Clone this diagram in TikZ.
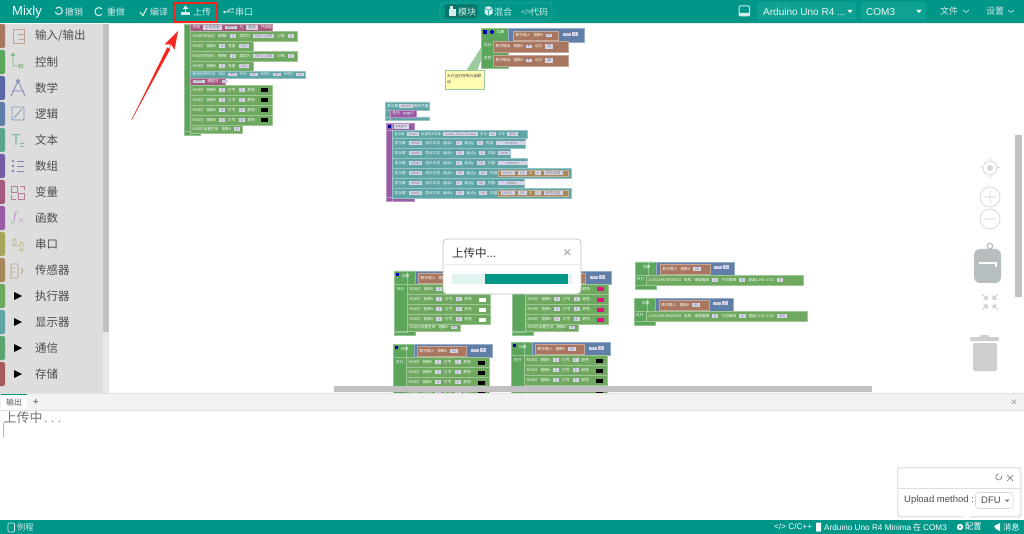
\documentclass[tikz,border=0pt]{standalone}
\usepackage{fontspec}
\setmainfont{Noto Sans CJK SC}
\newfontfamily\latinfont{Liberation Sans}
\usetikzlibrary{arrows.meta,calc}

\definecolor{topbar}{HTML}{009688}
\definecolor{topsel}{HTML}{0FA192}
\definecolor{uitext}{HTML}{D5ECE9}
\definecolor{sidecol}{HTML}{DDDDDD}
\definecolor{scrollcol}{HTML}{C1C1C1}
\definecolor{fieldcol}{HTML}{D5D3E8}
\definecolor{brownblk}{HTML}{A9775F}
\definecolor{greenblk}{HTML}{6FA85F}
\definecolor{ifblk}{HTML}{5CA65C}
\definecolor{blueblk}{HTML}{5F7FA8}
\definecolor{tealblk}{HTML}{5FA5A5}
\definecolor{magblk}{HTML}{A55B80}
\definecolor{purpblk}{HTML}{995BA5}
\definecolor{goldblk}{HTML}{A5895B}
\definecolor{mathtab}{HTML}{5B67A5}
\definecolor{texttab}{HTML}{5BA58C}
\definecolor{listtab}{HTML}{745BA5}
\definecolor{serialtab}{HTML}{A5A55B}
\definecolor{commtab}{HTML}{5BA56F}
\definecolor{storetab}{HTML}{A55B5B}
\definecolor{packcol}{HTML}{B6BEC0}
\definecolor{arrowred}{HTML}{F5261E}

\tikzset{
	blockrect/.style={line width=.6pt,draw=#1!65!white,fill=#1},
	blocktext/.style={anchor=west,inner sep=0pt,text=white,font=\fontsize{3.7}{4}\selectfont},
	toolitem/.style={anchor=west,inner sep=0pt,text=uitext,font=\fontsize{9}{9}\selectfont},
	sideitem/.style={anchor=west,inner sep=0pt,text=black!70,font=\fontsize{11.5}{12}\selectfont},
	statusitem/.style={anchor=west,inner sep=0pt,text=white,font=\fontsize{8.2}{9}\selectfont},
	toolicon/.style={draw=uitext,line width=1.1pt},
	ctrlicon/.style={draw=black!13,line width=1pt},
}

\newcommand{\fb}[1]{{\setlength{\fboxsep}{.5pt}\colorbox{fieldcol}{\hspace{1.5pt}\textcolor{black!50}{#1}\hspace{1.5pt}}}}
% name, x1, y1, x2, y2, colour, text
\newcommand{\blockrow}[7]{%
	\path[blockrect=#6] (#2,#3) rectangle (#4,#5);
	\node[blocktext] (#1) at (#2+2.5,{(#3+#5)/2}) {\spaceskip=3pt\relax #7};
}
% name, x, y, swatch colour, pin
\newcommand{\ifblock}[5]{%
	\path[blockrect=ifblk] (#2,#3) rectangle (#2+13,#3+61) (#2,#3) rectangle (#2+21,#3+13) (#2,#3+60) rectangle (#2+21,#3+64);
	\path[blockrect=blueblk] (#2+21,#3) rectangle (#2+99,#3+13);
	\blockrow{#1pin}{#2+24}{#3+2}{#2+73}{#3+12}{brownblk}{数字输入 管脚\# \fb{#5}}
	\node[blocktext] (#1if) at (#2+8,#3+5) {如果};
	\node[blocktext] (#1do) at (#2+3,#3+18) {执行};
	\node[blocktext] (#1eq) at (#2+78,#3+6) {\fb{==} \fb{0}};
	\fill[blue!70!black] (#2+2,#3+2) rectangle (#2+5,#3+5);
	\foreach \n in {1,2,3,4} {
		\blockrow{#1row\n}{#2+13}{#3+3+10*\n}{#2+96}{#3+13+10*\n}{greenblk}{RGB灯 管脚\# \fb{2} 灯号 \fb{\n} 颜色}
		\fill[#4] (#2+85,#3+6.5+10*\n) rectangle (#2+92,#3+10.5+10*\n);
	}
	\blockrow{#1end}{#2+13}{#3+53}{#2+66}{#3+60}{greenblk}{RGB灯设置生效 管脚\# \fb{2}}
}
% name, x, y, row left, row right, blue right, pin, text
\newcommand{\motorblock}[8]{%
	\path[blockrect=ifblk] (#2,#3) rectangle (#2+13,#3+23) (#2,#3) rectangle (#2+21,#3+13);
	\path[blockrect=ifblk] (#2,#3+23) rectangle (#2+21,#3+27);
	\path[blockrect=blueblk] (#2+21,#3) rectangle (#6,#3+13);
	\blockrow{#1pin}{#2+25}{#3+2}{#2+75}{#3+12}{brownblk}{数字输入 管脚\# \fb{#7}}
	\node[blocktext] (#1if) at (#2+8,#3+5) {如果};
	\node[blocktext] (#1do) at (#2+2,#3+17) {执行};
	\node[blocktext] (#1eq) at (#6-20,#3+5) {\fb{==} \fb{0}};
	\blockrow{#1row}{#4}{#3+13}{#5}{#3+23}{greenblk}{#8}
}

\begin{document}
\begin{tikzpicture}[x=1pt,y=-1pt]
	\useasboundingbox (0,0) rectangle (1024,534);
	\fill[white] (0,0) rectangle (1024,534);

	% first stack, upper left
	\path[blockrect=ifblk] (184,24) rectangle (190,135) (184,131) rectangle (200,135);
	\blockrow{declare}{190}{24}{272}{31}{magblk}{声明 \fb{全局变量} \fb{item} 为 \fb{整数} 并赋值}
	\blockrow{ledinitA}{190}{31}{297}{41}{greenblk}{RGB灯初始化 管脚\# \fb{2} 类型为 \fb{NEO\_GRB} 灯数 \fb{4}}
	\blockrow{ledlightA}{190}{41}{253}{51}{greenblk}{RGB灯 管脚\# \fb{2} 亮度 \fb{100}}
	\blockrow{ledinitB}{190}{51}{297}{61}{greenblk}{RGB灯初始化 管脚\# \fb{2} 类型为 \fb{NEO\_GRB} 灯数 \fb{4}}
	\blockrow{ledlightB}{190}{61}{253}{71}{greenblk}{RGB灯 管脚\# \fb{2} 亮度 \fb{100}}
	\blockrow{rfidinit}{190}{71}{305}{78}{tealblk}{初始化RFID为 SDA \fb{10} SCK \fb{13} MOSI \fb{11} MISO \fb{12}}
	\blockrow{itemset}{190}{78}{225}{85}{magblk}{\fb{item} 赋值为 \fb{0}}
	\foreach \n in {1,2,3,4} {
		\blockrow{firstrow\n}{190}{75+10*\n}{272}{85+10*\n}{greenblk}{RGB灯 管脚\# \fb{2} 灯号 \fb{\n} 颜色}
		\fill[black] (261,78+10*\n) rectangle (268,82+10*\n);
	}
	\blockrow{firstend}{190}{125}{242}{133}{greenblk}{RGB灯设置生效 管脚\# \fb{2}}

	% button block with its comment
	\fill[ifblk!60!white] (492,31) -- (466,71) -- (477,71) -- cycle;
	\path[blockrect=ifblk] (481,28) rectangle (508,68);
	\path[blockrect=blueblk] (508,28) rectangle (584,42);
	\blockrow{btnpin}{513}{31}{558}{40}{brownblk}{数字输入 管脚\# \fb{5}}
	\node[blocktext] (btnif) at (497,32) {如果};
	\node[blocktext] (btneq) at (563,34) {\fb{==} \fb{1}};
	\node[blocktext] (btndo) at (484,45) {执行};
	\node[blocktext] (btnelse) at (484,58) {否则};
	\blockrow{btnhigh}{493}{41}{568}{52}{brownblk}{数字输出 管脚\# \fb{9} 设为 \fb{低}}
	\blockrow{btnlow}{493}{55}{568}{66}{brownblk}{数字输出 管脚\# \fb{9} 设为 \fb{高}}
	\fill[blue!70!black] (483,30) rectangle (487,34);
	\fill[blue!70!black] (492,32) circle (2);
	\filldraw[draw=ifblk!60!white,fill=yellow!30!white,line width=1pt] (445,71) rectangle (484,90);
	\node[inner sep=0pt,text=black!75,align=left,anchor=north west,font=\fontsize{3.8}{6}\selectfont] (btnnote) at (447,74) {大灯运行控制与函联\\动};

	% display blocks
	\path[blockrect=tealblk] (385,102) rectangle (429,110) (385,110) rectangle (390,120) (385,117) rectangle (429,120);
	\node[blocktext] (oledtitle) at (387,106) {显示屏 \fb{oled2} 刷新页面};
	\blockrow{oledpage}{390}{110}{416}{117}{purpblk}{执行 page1}
	\path[blockrect=purpblk] (386,123) rectangle (392,201) (386,123) rectangle (414,130) (386,197) rectangle (414,201);
	\node[blocktext] (pagename) at (394,126.5) {\fb{page1}};
	\fill[blue!60!black] (388,125) rectangle (391,128);
	\blockrow{oledfont}{392}{130}{527}{138}{tealblk}{\fontsize{3.3}{4}\selectfont\spaceskip=2pt\relax 显示屏 \fb{oled2} 设置英文字体 \fb{Times New Roman} 字号 \fb{12} 字形 \fb{常规}}
	\blockrow{oledrowA}{392}{138}{525}{148}{tealblk}{显示屏 \fb{oled2} 显示文本 起点x \fb{0} 起点y \fb{0} 内容 \fb{“ renzhu ”}}
	\blockrow{oledrowB}{392}{148}{510}{158}{tealblk}{显示屏 \fb{oled2} 显示文本 起点x \fb{50} 起点y \fb{0} 内容 \fb{item}}
	\blockrow{oledrowC}{392}{158}{527}{168}{tealblk}{显示屏 \fb{oled2} 显示文本 起点x \fb{0} 起点y \fb{20} 内容 \fb{“ wendu ”}}
	\blockrow{oledrowD}{392}{168}{571}{178}{tealblk}{显示屏 \fb{oled2} 显示文本 起点x \fb{50} 起点y \fb{20} 内容}
	\blockrow{oledrowE}{392}{178}{524}{188}{tealblk}{显示屏 \fb{oled2} 显示文本 起点x \fb{0} 起点y \fb{40} 内容 \fb{“ shidu ”}}
	\blockrow{oledrowF}{392}{188}{571}{198}{tealblk}{显示屏 \fb{oled2} 显示文本 起点x \fb{50} 起点y \fb{40} 内容}
	\blockrow{dhtA}{498}{170}{568}{176}{goldblk}{\fb{Dht11} \fb{D5} \# \fb{4} \fb{获取温度}}
	\blockrow{dhtB}{498}{190}{568}{196}{goldblk}{\fb{Dht11} \fb{D5} \# \fb{4} \fb{获取湿度}}

	% the four light blocks and the two motor blocks
	\ifblock{lightA}{394}{271}{white}{A0}
	\ifblock{lightB}{512}{271}{magenta!75!purple}{A0}
	\ifblock{lightC}{393}{344}{black}{A1}
	\ifblock{lightD}{511}{342}{black}{A1}
	\motorblock{motorA}{635}{262}{646}{803}{734}{A2}{L293/298/DRV8833 电机 速度管脚 \fb{2} 方向管脚 \fb{4} 速度(-255\textasciitilde255) \fb{0}}
	\motorblock{motorB}{634}{298}{646}{807}{733}{A2}{L293/298/DRV8833 电机 速度管脚 \fb{3} 方向管脚 \fb{d} 速度(-255\textasciitilde255) \fb{255}}

	% scrollbars
	\fill[scrollcol] (334,386) rectangle (872,392);
	\fill[scrollcol] (1015,135) rectangle (1022,297);

	% controls on the right
	\coordinate (target) at (990,168);
	\draw[ctrlicon] (target) circle (7);
	\fill[black!16] (target) circle (3);
	\draw[ctrlicon] (980,168) -- (983,168) (997,168) -- (1000,168) (990,158) -- (990,161) (990,175) -- (990,178);
	\draw[ctrlicon] (990,197) circle (10) (984,197) -- (996,197) (990,191) -- (990,203);
	\draw[ctrlicon] (990,219) circle (10) (984,219) -- (996,219);
	\draw[packcol,line width=1.2pt] (990,246) circle (2.8);
	\fill[packcol,rounded corners=6pt] (974,283) -- (974,249) -- (1001,249) -- (1001,283) -- cycle;
	\draw[white,line width=1.2pt] (979,263) -- (996,263) -- (996,267);
	\foreach \sx/\sy in {1/1,-1/1,1/-1,-1/-1} {
		\fill[packcol!80!white] (990+\sx*2.5,302+\sy*2.5) -- (990+\sx*7,302+\sy*2.5) -- (990+\sx*2.5,302+\sy*7) -- cycle;
		\draw[packcol!80!white,line width=1pt] (990+\sx*3,302+\sy*3) -- (990+\sx*7.5,302+\sy*7.5);
	}
	\fill[black!19,rounded corners=1pt] (970,337) rectangle (999,341);
	\fill[black!19,rounded corners=1pt] (980,335) rectangle (989,338);
	\fill[black!19,rounded corners=1.5pt] (973,343) rectangle (997,371);

	% side panel
	\fill[sidecol] (0,24) rectangle (109,394);
	\fill[black!9] (103,24) rectangle (109,394);
	\fill[scrollcol] (103,24) rectangle (109,332);
	\foreach \n/\y/\tabcol/\lab in {
		1/36/brownblk/{输入/输出},2/62/ifblk/控制,3/88/mathtab/数学,4/114/blueblk/逻辑,
		5/140/texttab/文本,6/166/listtab/数组,7/192/magblk/变量,8/218/purpblk/函数,
		9/244/serialtab/串口,10/270/goldblk/传感器,11/296/greenblk/执行器,12/322/tealblk/显示器,
		13/348/commtab/通信,14/374/storetab/存储} {
		\fill[\tabcol,rounded corners=2pt] (-3,\y-12) rectangle (5,\y+12);
		\node[sideitem] (side\n) at (35,\y) {\lab};
	}
	\foreach \y in {296,322,348,374}
		\fill[black] (14,\y-4) -- (22,\y) -- (14,\y+4) -- cycle;
	\draw[brownblk!70!white,line width=.8pt] (13,29) rectangle (24,43) (18,34) -- (24,34) (25,39) -- (19,39);
	\draw[ifblk!80!white,line width=.8pt] (13,55) -- (13,66) -- (21,66) (13,55) circle (1.5) (21,66) circle (2);
	\draw[mathtab!80!white,line width=.8pt] (18,81) -- (11,96) (18,81) -- (25,96) (12,91) -- (24,91) (18,81) circle (1.6);
	\draw[blueblk!80!white,line width=.8pt,rounded corners=1pt] (12,107) rectangle (24,120) (14,118) -- (22,109);
	\node[inner sep=0pt,text=texttab!80!white,font=\fontsize{15}{15}\selectfont] (textglyph) at (16,140) {T};
	\draw[texttab!80!white,line width=.7pt] (20,143) -- (24,143) (20,146) -- (24,146);
	\draw[listtab!80!white,line width=.8pt] (17,161) -- (24,161) (17,166) -- (24,166) (17,171) -- (24,171);
	\fill[listtab!80!white] (13,161) circle (1.4) (13,166) circle (1.4) (13,171) circle (1.4);
	\draw[magblk!80!white,line width=.8pt] (11,186) rectangle (17,192) (18,193) rectangle (24,199) (20,186) -- (24,186) -- (24,190) (11,195) -- (11,199) -- (16,199);
	\node[inner sep=0pt,text=purpblk!70!white,font=\fontsize{14}{14}\itshape\selectfont] (fxglyph) at (18,218) {$f_{\times}$};
	\draw[serialtab!80!white,line width=.8pt,rounded corners=1.5pt] (13,239) rectangle (16,246) (20,242) rectangle (23,251) (16,246) -- (20,246);
	\draw[goldblk!80!white,line width=.8pt] (11,264) rectangle (18,278) (11,268) -- (15,268) (11,272) -- (15,272) (21,268) -- (23,271) -- (21,274);

	% tool bar
	\fill[topbar] (0,0) rectangle (1024,23);
	\fill[black!8] (109,23) rectangle (1024,23.8);
	\node[anchor=west,inner sep=0pt,text=white,font=\latinfont\fontsize{13}{13}\selectfont] (brand) at (12,12) {Mixly};
	\draw[toolicon] (56,8.5) arc (-140:160:3.6);
	\node[toolitem] (undo) at (65,12) {撤销};
	\draw[toolicon] (102,9) arc (-40:-320:4);
	\node[toolitem] (redo) at (107,12) {重做};
	\draw[toolicon] (140,12) -- (143,15.5) -- (147,8);
	\node[toolitem] (build) at (150,12) {编译};
	\draw[arrowred,line width=2pt] (173.5,3.5) -- (216.5,3.5) -- (216.5,22.5) -- (173.5,22.5) -- cycle;
	\node[toolitem] (upload) at (193,12) {上传};
	\fill[uitext] (181,12.5) rectangle (190,15.5);
	\draw[toolicon] (185.5,13) -- (185.5,8);
	\fill[uitext] (182.5,9) -- (185.5,5.5) -- (188.5,9) -- cycle;
	\node[toolitem] (serial) at (235,12) {串口};
	\draw[toolicon,line width=.8pt] (224,12) -- (234,12) (227,12) -- (230,9) -- (233,9);
	\fill[uitext] (224.5,12) circle (1.3) (233,9) circle (.9);
	% the three editor modes
	\draw[draw=uitext!20!topbar,fill=topbar,line width=.7pt,rounded corners=3pt] (440,3) rectangle (552,20);
	\fill[topsel!70!black!90!topbar,rounded corners=2pt] (445,4.5) rectangle (477,18.5);
	\fill[uitext] (449,16) rectangle (456,9);
	\fill[uitext] (450,6) rectangle (453,16);
	\node[toolitem] (modeblock) at (458,12) {模块};
	\fill[uitext] (484.5,8) -- (488.5,6) -- (492.5,8) -- (492.5,13.5) -- (488.5,16) -- (484.5,13.5) -- cycle;
	\draw[topbar,line width=.5pt] (484.5,8) -- (488.5,10.5) -- (492.5,8) (488.5,10.5) -- (488.5,16);
	\node[toolitem] (modemix) at (494,12) {混合};
	\node[toolitem,font=\latinfont\fontsize{7}{7}\selectfont] (codesign) at (521,12) {</>};
	\node[toolitem] (modecode) at (530,12) {代码};
	% board and port
	\draw[uitext,line width=1pt,rounded corners=1pt] (739,6) rectangle (749.5,16);
	\fill[uitext,rounded corners=.5pt] (739,13) rectangle (749.5,16);
	\fill[topsel,rounded corners=2pt] (757,2) rectangle (856,20);
	\fill[topsel,rounded corners=2pt] (861,2) rectangle (926,20);
	\node[anchor=west,inner sep=0pt,text=white!92!topbar,font=\latinfont\fontsize{10}{11}\selectfont] (board) at (763,12) {Arduino Uno R4 ...};
	\node[anchor=west,inner sep=0pt,text=white!92!topbar,font=\latinfont\fontsize{10}{11}\selectfont] (port) at (866,12) {COM3};
	\foreach \x in {850,919}
		\fill[white] (\x-2.5,10) -- (\x+2.5,10) -- (\x,13) -- cycle;
	\node[toolitem] (filemenu) at (940,11.5) {文件};
	\node[toolitem] (setmenu) at (986,11.5) {设置};
	\foreach \x in {966,1011}
		\draw[uitext,line width=.6pt] (\x-3,10) -- (\x,12.5) -- (\x+3,10);

	% output panel
	\fill[black!5] (0,394) rectangle (1024,410);
	\fill[white] (1,395) rectangle (27,410);
	\fill[topbar] (1,394) rectangle (27,395);
	\draw[black!12,line width=.6pt] (0,393.7) -- (1024,393.7) (0,410) -- (1024,410);
	\node[anchor=west,inner sep=0pt,text=black!65,font=\fontsize{8}{8}\selectfont] (outtab) at (6,402.5) {输出};
	\node[anchor=center,inner sep=0pt,text=black!70,font=\fontsize{10}{10}\selectfont] (addtab) at (36,402) {+};
	\node[anchor=center,inner sep=0pt,text=black!70,font=\fontsize{9}{9}\selectfont] (closepanel) at (1014,402) {$\times$};
	\node[anchor=west,inner sep=0pt,text=black!55,font=\fontsize{13}{13}\selectfont] (outtext) at (3.5,417.5) {上传中{\ttfamily ...}};
	\draw[black!30,line width=.7pt] (3,423) -- (3,437);

	% status bar
	\fill[topbar] (0,520) rectangle (1024,534);
	\draw[white!85!topbar,line width=.7pt,rounded corners=1pt] (8,523) rectangle (14.5,532);
	\node[statusitem,text=uitext] (examples) at (17,527) {例程};
	\node[statusitem] (langlabel) at (774,527) {{\latinfont </> C/C++}};
	\fill[white,rounded corners=.6pt] (816,522.5) rectangle (821,531.5);
	\node[statusitem] (boardlabel) at (824,527) {{\latinfont Arduino Uno R4 Minima} 在 {\latinfont COM3}};
	\fill[white] (960,527) circle (3.2);
	\fill[topbar] (960,527) circle (1.1);
	\node[statusitem] (configlabel) at (965,527) {配置};
	\fill[white] (994,526) -- (1000,523) -- (1000,531) -- (996,529) -- cycle;
	\node[statusitem] (msglabel) at (1003,527) {消息};

	% upload method popup
	\fill[black!9,rounded corners=2pt] (897,467) rectangle (1021.5,517.5);
	\fill[white,draw=black!12,line width=.5pt,rounded corners=2pt] (898,468) rectangle (1020,516);
	\fill[white] (963,516) -- (971,516) -- (967,520) -- cycle;
	\draw[black!13,line width=.6pt] (898,488) -- (1020,488);
	\draw[black!50,line width=.7pt] (1001.5,476) arc (-20:280:3);
	\draw[black!50,line width=.7pt] (1007,475) -- (1013,481) (1013,475) -- (1007,481);
	\node[anchor=west,inner sep=0pt,text=black!70,font=\latinfont\fontsize{9.5}{10}\selectfont] (methodlabel) at (904,500.5) {Upload method :};
	\draw[black!15,line width=.6pt,rounded corners=3pt] (975.5,492.5) rectangle (1013,508.5);
	\node[anchor=west,inner sep=0pt,text=black!70,font=\latinfont\fontsize{9.5}{10}\selectfont] (methodvalue) at (981,500.5) {DFU};
	\fill[black!55] (1004.5,499.5) -- (1009.5,499.5) -- (1007,502) -- cycle;

	% progress dialog
	\fill[white,draw=black!25,line width=.7pt,rounded corners=4pt] (443,239) rectangle (581,294);
	\draw[black!8,line width=.7pt] (445,264) -- (579,264);
	\node[anchor=west,inner sep=0pt,text=black!80,font=\fontsize{11.5}{12}\selectfont] (dialogtitle) at (452,253) {上传中{\latinfont ...}};
	\draw[black!30,line width=1.1pt] (564.5,249.5) -- (570,255) (570,249.5) -- (564.5,255);
	\fill[topbar!12!white] (452,274) rectangle (572,284);
	\fill[topbar] (485,274) rectangle (568,284);

	% red arrow to the upload button
	\coordinate (arrowtail) at (131.5,120);
	\coordinate (arrowtip) at (178,31);
	\fill[arrowred] (arrowtail) -- (167.2,47.4) -- (170.4,49) -- cycle;
	\draw[arrowred,line width=.4pt,-{Stealth[length=18pt,width=11pt,inset=3pt]}] (arrowtail) -- (arrowtip);
\end{tikzpicture}
\end{document}
